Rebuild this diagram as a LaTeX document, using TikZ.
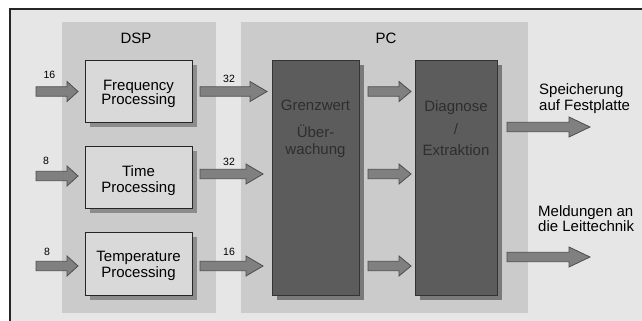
\documentclass[tikz,border=0pt]{standalone}
\usepackage{fontspec}
\setmainfont{Liberation Sans}
\definecolor{framebg}{HTML}{E6E6E6}
\definecolor{panelbg}{HTML}{CBCBCB}
\definecolor{boxbg}{HTML}{D9D9D9}
\definecolor{boxshadow}{HTML}{8C8C8C}
\definecolor{darkbox}{HTML}{5C5C5C}
\definecolor{darkshadow}{HTML}{7A7A7A}
\definecolor{darktext}{HTML}{2E2E2E}
\definecolor{arrowfill}{HTML}{808080}
\definecolor{arrowline}{HTML}{4D4D4D}
\tikzset{
  bigtxt/.style={font=\fontsize{15}{15}\selectfont, text=black, inner sep=0pt, anchor=base},
  smalltxt/.style={font=\fontsize{10.5}{10.5}\selectfont, text=black, inner sep=0pt},
  darktxt/.style={bigtxt, text=darktext},
  barrowstyle/.style={fill=arrowfill, draw=arrowline, line width=0.8pt, line join=miter},
  lightbox/.style={fill=boxbg, draw=black!85, line width=0.9pt},
  heavybox/.style={fill=darkbox, draw=black!80, line width=0.9pt},
}
% block arrow: #1 start x, #2 shaft end x, #3 tip x, #4 centre y
\newcommand\blockarrow[4]{%
  \draw[barrowstyle] (#1,#4-4.7) -- (#2,#4-4.7) -- (#2,#4-10) -- (#3,#4) -- (#2,#4+10)
    -- (#2,#4+4.7) -- (#1,#4+4.7) -- cycle;}
\begin{document}
\begin{tikzpicture}[x=1pt,y=-1pt]
\useasboundingbox (0,0) rectangle (642,321);
\begin{scope}
\clip (0,0) rectangle (642,321);
% outer frame
\fill[white] (0,0) rectangle (642,321);
\draw[fill=framebg, draw=black!85, line width=1.6pt] (10,9) rectangle (660,340);
% panels
\fill[panelbg] (62,22) rectangle (216,313);
\fill[panelbg] (241,22) rectangle (528,313);
\end{scope}
\node[bigtxt] (dsp) at (136,44) {DSP};
\node[bigtxt] (pc) at (386,44) {PC};
% light boxes with shadows
\fill[boxshadow] (90,65) rectangle (197,127);
\fill[boxshadow] (90,151) rectangle (197,213);
\fill[boxshadow] (90,237) rectangle (197,300);
\draw[lightbox] (85,60) rectangle (192,122);
\draw[lightbox] (85,146) rectangle (192,208);
\draw[lightbox] (85,232) rectangle (192,295);
\coordinate (freq) at (138.5,91);
\node[bigtxt] (freq1) at (138.5,90) {Frequency};
\node[bigtxt] (freq2) at (138.5,104.5) {Processing};
\node[bigtxt] (time1) at (138.5,176) {Time};
\node[bigtxt] (time2) at (138.5,192.5) {Processing};
\node[bigtxt] (temp1) at (138.5,261) {Temperature};
\node[bigtxt] (temp2) at (138.5,277) {Processing};
% dark boxes with shadows
\fill[darkshadow] (277,65) rectangle (364,300);
\fill[darkshadow] (420,65) rectangle (502,300);
\draw[heavybox] (272,60) rectangle (359,295);
\draw[heavybox] (415,60) rectangle (497,295);
\node[darktxt] (gw1) at (315.5,110.5) {Grenzwert};
\node[darktxt] (gw2) at (315.5,137.5) {Über-};
\node[darktxt] (gw3) at (315.5,154) {wachung};
\node[darktxt] (dg1) at (456,111.5) {Diagnose};
\node[darktxt] (dg2) at (456,134) {/};
\node[darktxt] (dg3) at (456,155.5) {Extraktion};
% input arrows
\blockarrow{36}{67}{78}{91.5}
\blockarrow{36}{67}{78}{176}
\blockarrow{36}{67}{78}{266}
\node[smalltxt] (in1) at (49.5,75) {16};
\node[smalltxt] (in2) at (46,161) {8};
\node[smalltxt] (in3) at (47,252) {8};
% DSP -> PC arrows
\blockarrow{200}{250}{267}{91.5}
\blockarrow{200}{246}{263}{174}
\blockarrow{200}{246}{263}{266}
\node[smalltxt] (o1) at (229,79) {32};
\node[smalltxt] (o2) at (229,162) {32};
\node[smalltxt] (o3) at (229,252) {16};
% middle arrows
\blockarrow{368}{399}{411}{91.5}
\blockarrow{368}{399}{411}{174}
\blockarrow{368}{399}{411}{266}
% output arrows
\blockarrow{507}{569}{590}{127}
\blockarrow{507}{569}{590}{257}
\node[bigtxt, anchor=base west] (sp1) at (539,94.5) {Speicherung};
\node[bigtxt, anchor=base west] (sp2) at (539,110) {auf Festplatte};
\node[bigtxt, anchor=base west] (ml1) at (538,216) {Meldungen an};
\node[bigtxt, anchor=base west] (ml2) at (538,231.5) {die Leittechnik};
\end{tikzpicture}
\end{document}
